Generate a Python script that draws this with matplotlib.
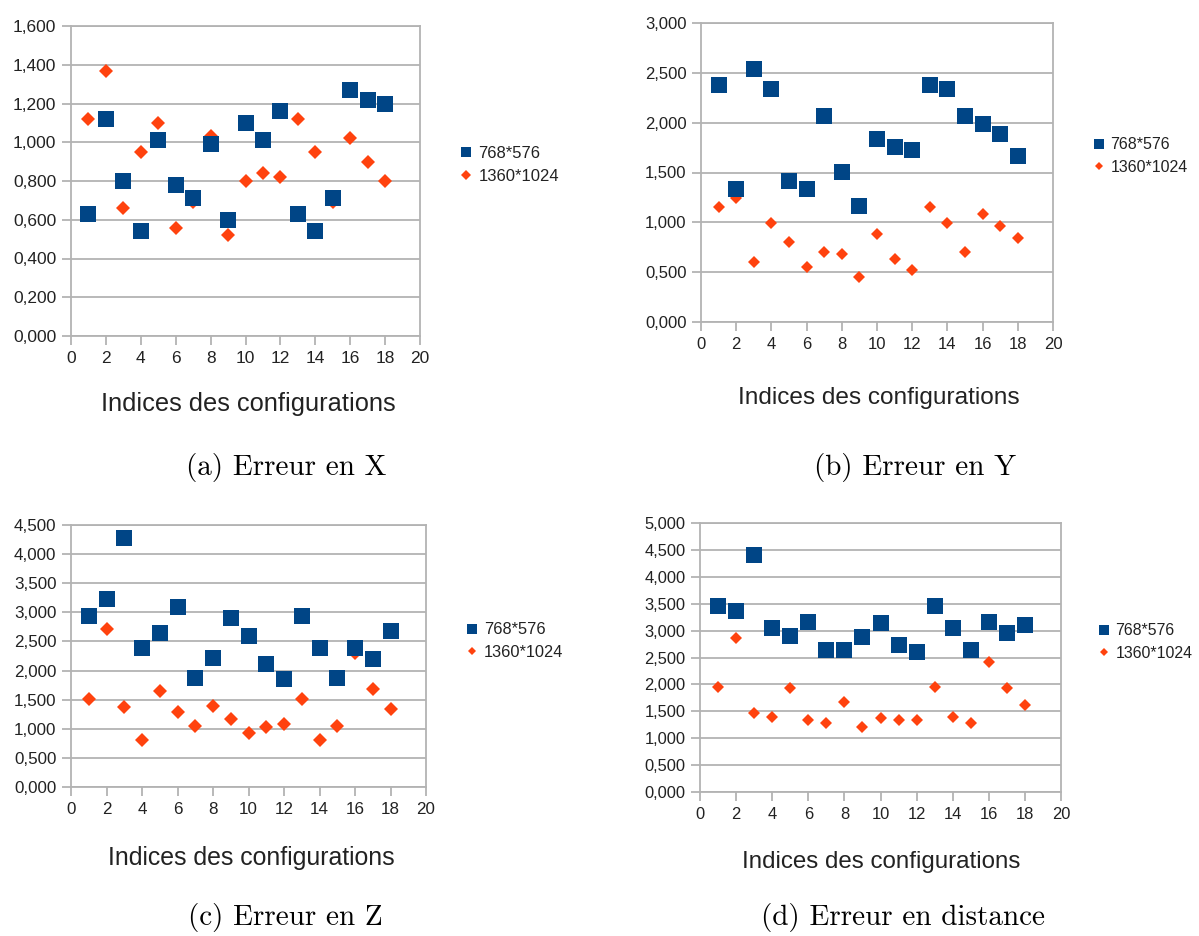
import matplotlib
matplotlib.use("Agg")
import matplotlib.pyplot as plt
from matplotlib.ticker import FuncFormatter, MultipleLocator

# ---------------- data ----------------
configs = list(range(1, 19))

x_low = [0.63, 1.12, 0.80, 0.54, 1.01, 0.78, 0.71, 0.99, 0.60, 1.10, 1.01, 1.16, 0.63, 0.54, 0.71, 1.27, 1.22, 1.20]
x_high = [1.12, 1.37, 0.66, 0.95, 1.10, 0.56, 0.69, 1.03, 0.52, 0.80, 0.84, 0.82, 1.12, 0.95, 0.69, 1.02, 0.90, 0.80]

y_low = [2.38, 1.33, 2.54, 2.34, 1.41, 1.33, 2.07, 1.51, 1.16, 1.84, 1.76, 1.73, 2.38, 2.34, 2.07, 1.99, 1.89, 1.67]
y_high = [1.15, 1.24, 0.60, 0.99, 0.80, 0.55, 0.70, 0.68, 0.45, 0.88, 0.63, 0.52, 1.15, 0.99, 0.70, 1.08, 0.96, 0.84]

z_low = [2.93, 3.23, 4.28, 2.39, 2.65, 3.09, 1.875, 2.21, 2.91, 2.59, 2.12, 1.85, 2.93, 2.39, 1.875, 2.39, 2.19, 2.68]
z_high = [1.51, 2.72, 1.38, 0.80, 1.65, 1.28, 1.04, 1.39, 1.16, 0.93, 1.03, 1.08, 1.51, 0.80, 1.04, 2.30, 1.69, 1.34]

d_low = [3.45, 3.37, 4.41, 3.05, 2.90, 3.16, 2.64, 2.64, 2.89, 3.15, 2.74, 2.60, 3.45, 3.05, 2.64, 3.16, 2.96, 3.10]
d_high = [1.95, 2.87, 1.46, 1.40, 1.93, 1.33, 1.29, 1.67, 1.21, 1.37, 1.33, 1.33, 1.95, 1.40, 1.29, 2.42, 1.93, 1.61]

series_labels = ["768*576", "1360*1024"]
captions = ["(a) Erreur en X", "(b) Erreur en Y", "(c) Erreur en Z", "(d) Erreur en distance"]
xlabel_text = "Indices des configurations"
y_max = [1.6, 3.0, 4.5, 5.0]
y_step = [0.2, 0.5, 0.5, 0.5]

# ---------------- style ----------------
W, H = 1199, 936
DPI = 100
BLUE = "#004586"
ORANGE = "#ff420e"
GRID = "#b3b3b3"
TXT = "#222222"
SANS = ["Liberation Sans", "DejaVu Sans"]
SERIF = ["cmr10", "DejaVu Serif"]

fig = plt.figure(figsize=(W / DPI, H / DPI), dpi=DPI)


def fx(x):
    return x / W


def fy(y):
    return 1 - y / H


# axes boxes: left, right, top, bottom in pixels
boxes = [
    (71, 420, 26, 336),
    (701, 1053, 23, 322),
    (71, 426, 525, 787),
    (700, 1061, 523, 792),
]
scales = [1.0, 0.96, 0.98, 0.95]
xlabel_pos = [(248, 404), (879, 398), (251, 858), (881, 862)]
caption_pos = [(286, 467), (915, 467), (285, 918), (903, 918)]
legend_pos = [(460, 165), (1093, 156), (466, 641), (1098, 642)]

data = [(x_low, x_high), (y_low, y_high), (z_low, z_high), (d_low, d_high)]

fmt = FuncFormatter(lambda v, p: f"{v:.3f}".replace(".", ","))

for i, ((l, r, t, b), (low, high)) in enumerate(zip(boxes, data)):
    s = scales[i]
    ax = fig.add_axes([fx(l), fy(b), fx(r - l), (b - t) / H])
    ax.set_xlim(0, 20)
    ax.set_ylim(0, y_max[i])
    ax.xaxis.set_major_locator(MultipleLocator(2))
    ax.yaxis.set_major_locator(MultipleLocator(y_step[i]))
    ax.yaxis.set_major_formatter(fmt)
    ax.grid(axis="y", color=GRID, linewidth=1.3)
    ax.set_axisbelow(True)
    for sp in ax.spines.values():
        sp.set_color(GRID)
        sp.set_linewidth(1.3)
    ax.tick_params(axis="both", color=GRID, width=1.3, length=6.5, pad=4,
                   labelsize=12.5 * s, labelcolor=TXT)
    for lab in ax.get_xticklabels() + ax.get_yticklabels():
        lab.set_family(SANS)

    h2, = ax.plot(configs, high, linestyle="none", marker="D", markersize=6.8 * s,
                  markeredgewidth=0, color=ORANGE, zorder=3, label=series_labels[1],
                  clip_on=False)
    h1, = ax.plot(configs, low, linestyle="none", marker="s", markersize=11.5 * s,
                  markeredgewidth=0, color=BLUE, zorder=4, label=series_labels[0],
                  clip_on=False)

    lx, ly = legend_pos[i]
    leg = fig.legend([h1, h2], series_labels, loc="center left",
                     bbox_to_anchor=(fx(lx), fy(ly)), frameon=False,
                     prop={"family": SANS, "size": 12 * s},
                     handlelength=0.7, handletextpad=0.4, labelspacing=0.45,
                     borderaxespad=0, borderpad=0, markerscale=0.68)
    for txt in leg.get_texts():
        txt.set_color(TXT)

    xx, yy = xlabel_pos[i]
    fig.text(fx(xx), fy(yy), xlabel_text, ha="center", va="center",
             family=SANS, size=18.3 * s, color=TXT)
    cx, cy = caption_pos[i]
    fig.text(fx(cx), fy(cy), captions[i], ha="center", va="center",
             family=SERIF, size=21, color="black")

fig.savefig("out.png", dpi=DPI, facecolor="white")
